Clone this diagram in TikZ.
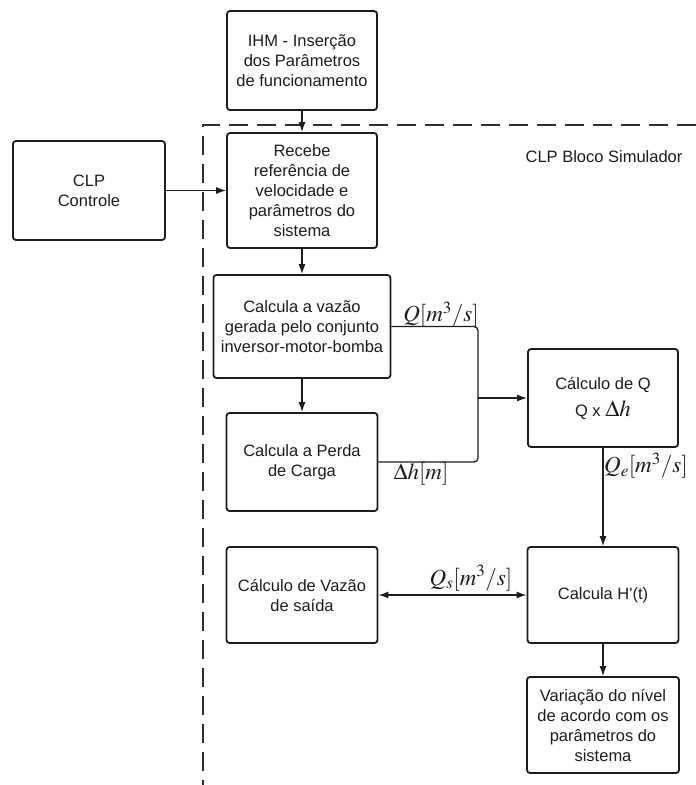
\documentclass[tikz,border=0pt]{standalone}
\usepackage{mathptmx}
\usepackage{fontspec}
\setmainfont{Liberation Sans}
\newfontfamily\plainsans{Liberation Sans}
\usepackage{xcolor}
\usetikzlibrary{arrows.meta,positioning,calc}
\definecolor{SimInk}{HTML}{1C1C1C}
\definecolor{SimDash}{HTML}{2E2E2E}

\begin{document}
\begin{tikzpicture}[
  x=1pt,
  y=-1pt,
  every node/.style={font=\fontsize{16.5}{20}\selectfont, text=SimInk},
  blk/.style={draw=SimInk, line width=1.8pt, rounded corners=3pt, align=center, inner sep=0pt},
  wire/.style={draw=SimInk, line width=1.3pt, rounded corners=4pt},
  link/.style={wire, -{Latex[length=10pt,width=7pt]}},
  qlabel/.style={font=\fontsize{23}{26}\selectfont, inner sep=0pt}
]
\useasboundingbox (0,0) rectangle (696,785);

\draw[SimDash, line width=2.2pt, dash pattern=on 19pt off 9pt] (696,125) -- (203,125) -- (203,785);
\node at (604,157) {CLP Bloco Simulador};

\node[blk, minimum width=150, minimum height=99] (ihm) at (302,60.5) {IHM - Inserção\\dos Parâmetros\\de funcionamento};
\node[blk, minimum width=150, minimum height=115] (recebe) at (302,190.5) {Recebe\\referência de\\velocidade e\\parâmetros do\\sistema};
\node[blk, minimum width=152, minimum height=99] (clp) at (89,190.5) {CLP\\Controle};
\node[blk, minimum width=177, minimum height=103] (vazao) at (302,326.5) {Calcula a vazão\\gerada pelo conjunto\\inversor-motor-bomba};
\node[blk, minimum width=151, minimum height=98] (perda) at (302,462) {Calcula a Perda\\de Carga};
\node[blk, minimum width=150, minimum height=98] (calcq) at (603,398) {Cálculo de Q\\[7pt]Q x {\fontsize{23}{26}\selectfont$\Delta h$}};
\node[blk, minimum width=151, minimum height=96] (hlinha) at (603,595) {Calcula H{\plainsans'}(t)};
\node[blk, minimum width=151, minimum height=96] (saida) at (302,595) {Cálculo de Vazão\\de saída};
\node[blk, minimum width=152, minimum height=96] (nivel) at (603,725) {Variação do nível\\de acordo com os\\parâmetros do\\sistema};

\coordinate (qj) at (478,398);

\draw[link] (ihm) -- (recebe);
\draw[link] (clp) -- (recebe);
\draw[link] (recebe) -- (vazao);
\draw[link] (vazao) -- (perda);
\draw[wire] (vazao.east) -- (qj |- vazao.east) -- (qj);
\draw[wire] (perda.east) -- (qj |- perda.east) -- (qj);
\draw[link] (qj) -- (calcq.west);
\draw[link] (calcq) -- (hlinha);
\draw[wire, {Latex[length=10pt,width=7pt]}-{Latex[length=10pt,width=7pt]}] (saida) -- (hlinha);
\draw[link] (hlinha) -- (nivel);

\node[qlabel] (lq) at (441,315) {$Q[m^3/s]$};
\node[qlabel] (ldh) at (421,474) {$\Delta h[m]$};
\node[qlabel, anchor=west] (lqe) at (604,466) {$Q_e[m^3/s]$};
\node[qlabel] (lqs) at (471,578) {$Q_s[m^3/s]$};
\end{tikzpicture}
\end{document}
